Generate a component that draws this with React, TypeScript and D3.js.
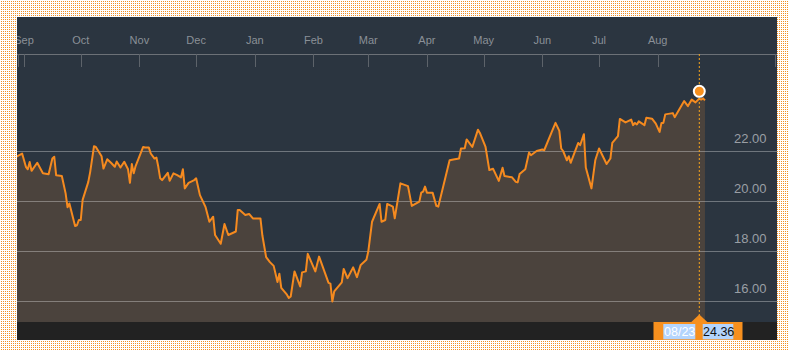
import React from 'react';
import * as d3 from 'd3';

// closing prices (Aug 2015 - Aug 2016)
const dates = [
  '2015-08-28', '2015-08-31', '2015-09-02', '2015-09-03', '2015-09-04', '2015-09-05', '2015-09-08', '2015-09-11',
  '2015-09-14', '2015-09-16', '2015-09-17', '2015-09-18', '2015-09-21', '2015-09-23', '2015-09-24', '2015-09-25',
  '2015-09-28', '2015-09-29', '2015-09-30', '2015-10-01', '2015-10-02', '2015-10-05', '2015-10-06', '2015-10-08',
  '2015-10-09', '2015-10-12', '2015-10-13', '2015-10-15', '2015-10-17', '2015-10-19', '2015-10-20', '2015-10-22',
  '2015-10-24', '2015-10-26', '2015-10-27', '2015-10-28', '2015-10-29', '2015-10-30', '2015-11-03', '2015-11-04',
  '2015-11-06', '2015-11-07', '2015-11-09', '2015-11-10', '2015-11-11', '2015-11-12', '2015-11-13', '2015-11-16',
  '2015-11-17', '2015-11-19', '2015-11-21', '2015-11-23', '2015-11-24', '2015-11-25', '2015-11-27', '2015-11-30',
  '2015-12-01', '2015-12-03', '2015-12-06', '2015-12-08', '2015-12-10', '2015-12-11', '2015-12-14', '2015-12-16',
  '2015-12-18', '2015-12-22', '2015-12-23', '2015-12-24', '2015-12-27', '2015-12-29', '2015-12-31', '2016-01-04',
  '2016-01-05', '2016-01-07', '2016-01-09', '2016-01-11', '2016-01-13', '2016-01-14', '2016-01-15', '2016-01-18',
  '2016-01-19', '2016-01-20', '2016-01-22', '2016-01-25', '2016-01-26', '2016-01-28', '2016-01-29', '2016-02-02',
  '2016-02-04', '2016-02-09', '2016-02-10', '2016-02-11', '2016-02-12', '2016-02-16', '2016-02-17', '2016-02-19',
  '2016-02-22', '2016-02-24', '2016-02-26', '2016-02-29', '2016-03-01', '2016-03-03', '2016-03-07', '2016-03-08',
  '2016-03-10', '2016-03-11', '2016-03-14', '2016-03-15', '2016-03-18', '2016-03-22', '2016-03-24', '2016-03-28',
  '2016-03-29', '2016-03-30', '2016-03-31', '2016-04-01', '2016-04-04', '2016-04-06', '2016-04-07', '2016-04-13',
  '2016-04-15', '2016-04-18', '2016-04-19', '2016-04-21', '2016-04-22', '2016-04-25', '2016-04-28', '2016-04-29',
  '2016-05-02', '2016-05-04', '2016-05-06', '2016-05-09', '2016-05-11', '2016-05-12', '2016-05-16', '2016-05-18',
  '2016-05-19', '2016-05-20', '2016-05-23', '2016-05-25', '2016-05-26', '2016-05-29', '2016-06-01', '2016-06-02',
  '2016-06-06', '2016-06-08', '2016-06-10', '2016-06-11', '2016-06-12', '2016-06-14', '2016-06-15', '2016-06-16',
  '2016-06-20', '2016-06-21', '2016-06-23', '2016-06-24', '2016-06-27', '2016-06-29', '2016-07-01', '2016-07-05',
  '2016-07-07', '2016-07-08', '2016-07-11', '2016-07-12', '2016-07-15', '2016-07-18', '2016-07-19', '2016-07-20',
  '2016-07-21', '2016-07-22', '2016-07-25', '2016-07-26', '2016-07-29', '2016-07-31', '2016-08-02', '2016-08-03',
  '2016-08-04', '2016-08-05', '2016-08-09', '2016-08-10', '2016-08-15', '2016-08-17', '2016-08-19', '2016-08-21',
  '2016-08-23', '2016-08-24', '2016-08-25', '2016-08-26',
];

const closes = [
  21.75, 21.88, 21.35, 21.25, 21.54, 21.19, 21.51, 21.09,
  21.05, 21.68, 21.75, 21.01, 20.98, 20.29, 19.74, 19.89,
  18.99, 19.02, 19.23, 19.23, 20.03, 20.75, 21.15, 22.17,
  22.14, 21.77, 21.28, 21.65, 21.51, 21.35, 21.56, 21.32,
  21.55, 21.25, 20.71, 21.46, 21.09, 21.38, 22.14, 22.12,
  22.12, 21.88, 21.68, 21.72, 21.35, 20.89, 20.82, 21.11,
  20.79, 21.09, 21.02, 20.93, 21.25, 20.49, 20.71, 20.82,
  20.89, 20.22, 19.74, 19.16, 19.36, 18.63, 18.28, 19.07,
  18.63, 18.77, 19.63, 19.63, 19.43, 19.47, 19.29, 19.29,
  18.62, 17.75, 17.55, 17.40, 16.76, 17.09, 16.52, 16.25,
  16.12, 16.18, 17.18, 16.58, 17.14, 17.18, 17.88, 17.18,
  17.77, 16.72, 16.69, 15.98, 16.38, 16.74, 17.28, 16.91,
  17.34, 16.95, 17.44, 17.64, 17.97, 19.16, 19.87, 19.16,
  19.23, 19.87, 19.76, 19.30, 20.69, 20.58, 19.79, 19.96,
  20.32, 20.36, 20.56, 20.32, 20.32, 19.79, 19.76, 21.61,
  21.64, 21.68, 22.08, 22.09, 22.44, 22.14, 22.83, 22.70,
  22.14, 21.22, 21.27, 20.79, 21.31, 20.98, 20.93, 20.75,
  20.73, 21.06, 21.25, 21.92, 21.81, 21.98, 22.04, 22.01,
  22.74, 23.10, 22.78, 22.08, 21.98, 21.61, 21.77, 21.51,
  22.30, 22.21, 22.65, 21.32, 20.49, 21.61, 22.08, 21.46,
  21.68, 22.30, 22.57, 23.26, 23.12, 23.23, 23.01, 23.10,
  23.04, 23.16, 23.01, 23.31, 23.27, 23.07, 22.74, 23.10,
  23.10, 23.44, 23.49, 23.33, 23.97, 23.77, 24.03, 23.92,
  24.07, 24.03, 24.08, 24.00,
];

const yTicks = [16, 18, 20, 22];
const axisStart = '2015-09-01';
const axisEnd = '2016-08-23';
const markerDate = '2016-08-23';
const markerValue = 24.36;

const W = 789;
const H = 351;
const panel = { left: 17, top: 17, right: 777, bottom: 340 };
const axisY = 54;
const plotBottom = 322;

const parse = d3.timeParse('%Y-%m-%d');

const App: React.FC = () => {
  const data = dates.map((d, i) => ({ date: parse(d) as Date, value: closes[i] }));

  const x = d3.scaleTime()
    .domain([parse(axisStart) as Date, parse(axisEnd) as Date])
    .range([24, 699.3]);
  const y = d3.scaleLinear().domain([16, 22]).range([301, 150.5]);

  const line = d3.line<{ date: Date; value: number }>()
    .x(d => x(d.date))
    .y(d => y(d.value));
  const area = d3.area<{ date: Date; value: number }>()
    .x(d => x(d.date))
    .y0(plotBottom)
    .y1(d => y(d.value));

  const months = x.ticks(d3.timeMonth.every(1) as d3.TimeInterval);
  const fmt = d3.timeFormat('%b');
  const mx = x(parse(markerDate) as Date);
  const my = y(markerValue);
  const font = '"Liberation Sans", Arial, Helvetica, sans-serif';

  return (
    <svg width={W} height={H} style={{ position: 'absolute', left: 0, top: 0 }} fontFamily={font}>
      <defs>
        <pattern id="dots" width={2} height={2} patternUnits="userSpaceOnUse">
          <rect x={1} y={1} width={1} height={1} fill="#f39022" shapeRendering="crispEdges" />
        </pattern>
        <clipPath id="plotClip">
          <rect x={panel.left} y={axisY} width={panel.right - panel.left} height={plotBottom - axisY} />
        </clipPath>
      </defs>

      <rect width={W} height={H} fill="#ffffff" />
      <rect width={W} height={H} fill="url(#dots)" />

      {/* panel */}
      <rect x={panel.left} y={panel.top} width={panel.right - panel.left}
        height={panel.bottom - panel.top} fill="#2b3540" />
      <rect x={panel.left} y={plotBottom} width={panel.right - panel.left}
        height={panel.bottom - plotBottom} fill="#222222" />

      {/* area + gridlines + line */}
      <g clipPath="url(#plotClip)">
        <path d={area(data) || ''} fill="#4b433d" />
        {yTicks.map(t => (
          <line key={t} x1={panel.left} x2={panel.right} y1={Math.round(y(t)) + 0.5} y2={Math.round(y(t)) + 0.5}
            stroke="rgba(255,255,255,0.32)" strokeWidth={1} />
        ))}
        <path d={line(data) || ''} fill="none" stroke="#f58a1f" strokeWidth={2} strokeLinejoin="round" />
      </g>

      {/* y labels */}
      {yTicks.map(t => (
        <text key={t} x={766.5} y={y(t) - 8} textAnchor="end" fontSize={13} fill="#9a9fa5">
          {t.toFixed(2)}
        </text>
      ))}

      {/* top month axis */}
      <line x1={panel.left} x2={panel.right} y1={axisY + 0.5} y2={axisY + 0.5} stroke="#6c7177" strokeWidth={1} />
      <line x1={18.5} x2={18.5} y1={axisY} y2={axisY + 13} stroke="#5d636a" />
      <line x1={775.5} x2={775.5} y1={axisY} y2={axisY + 13} stroke="#5d636a" />
      {months.map(m => {
        const px = Math.round(x(m)) + 0.5;
        return (
          <g key={m.getTime()}>
            <line x1={px} x2={px} y1={axisY} y2={axisY + 13} stroke="#5d636a" />
            <text x={x(m)} y={44} textAnchor="middle" fontSize={11} fill="#8a9097">{fmt(m)}</text>
          </g>
        );
      })}
      {/* re-cover the label overflow left of the panel */}
      <rect x={0} y={panel.top} width={panel.left} height={40} fill="#ffffff" />
      <rect x={0} y={panel.top} width={panel.left} height={40} fill="url(#dots)" />

      {/* crosshair */}
      <line x1={mx} x2={mx} y1={axisY} y2={plotBottom} stroke="#f5a31c" strokeWidth={1} strokeDasharray="2,2" />
      <circle cx={mx} cy={my} r={5.5} fill="#f7901e" stroke="#ffffff" strokeWidth={2} />

      {/* value tag */}
      <rect x={653.5} y={plotBottom} width={89} height={panel.bottom - plotBottom} fill="#f7901e" />
      <path d={`M${mx - 8},${plotBottom} L${mx},${plotBottom - 7.5} L${mx + 8},${plotBottom} Z`} fill="#f7901e" />
      <rect x={663.3} y={324} width={32} height={15.3} fill="#b4d5fe" />
      <rect x={702.7} y={324} width={30.6} height={15.3} fill="#b4d5fe" />
      <text x={664} y={335.5} fontSize={12.5} fill="#ffffff">{d3.timeFormat('%m/%d')(parse(markerDate) as Date)}</text>
      <text x={703} y={335.5} fontSize={12.5} fill="#111111">{markerValue.toFixed(2)}</text>
    </svg>
  );
};

export default App;
